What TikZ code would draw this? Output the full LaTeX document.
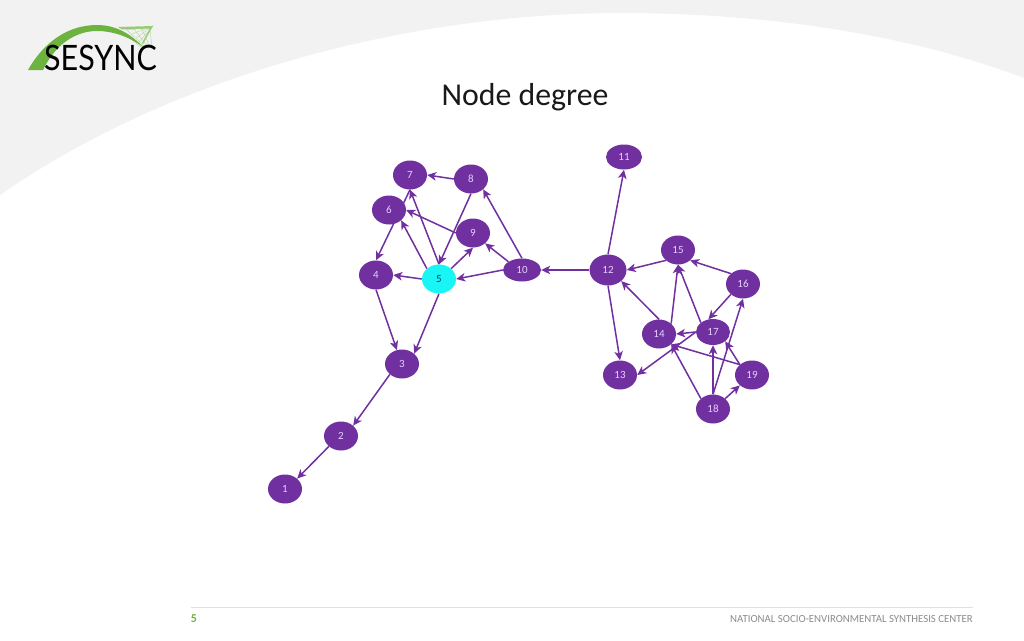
\documentclass[tikz,border=0pt]{standalone}
\usepackage{fontspec}
\setmainfont{Carlito}
\newfontfamily\logofont{Lato}
\usetikzlibrary{arrows.meta,shapes.geometric}
\pgfdeclarelayer{edgelayer}
\pgfdeclarelayer{nodelayer}
\pgfsetlayers{main,edgelayer,nodelayer}
\definecolor{vio}{HTML}{7030A0}
\definecolor{lab}{HTML}{E8CFFF}
\definecolor{bg}{HTML}{F2F2F2}
\definecolor{leaf}{HTML}{6DB33F}
\definecolor{hub}{HTML}{19F5F5}
\definecolor{hubtext}{HTML}{063F5C}
\tikzset{
  vx/.style={ellipse,fill=vio,text=lab,minimum width=34pt,minimum height=29pt,inner sep=0pt,font=\fontsize{11}{12}\selectfont},
  vxwide/.style={vx,minimum width=38pt,minimum height=23pt},
  vxhub/.style={vx,fill=hub,text=hubtext},
  lk/.style={draw=vio,line width=1.5pt,-{Stealth[length=9pt,width=8.5pt,inset=2.5pt]}},
  web/.style={draw=leaf!60,line width=0.3pt}
}
\begin{document}
\begin{tikzpicture}[x=1pt,y=-1pt]
\useasboundingbox (0,0) rectangle (1024,640);
\fill[white] (0,0) rectangle (1024,640);
\fill[bg] (0,0) -- (0,195) .. controls (180,70) and (420,13) .. (620,13) .. controls (770,13) and (910,35) .. (1024,78) -- (1024,0) -- cycle;
% logo
\foreach \a/\b in {118/141,126/145,134/148,142/150,150/152}{\draw[web] (\a,29) -- (\b,47);}
\foreach \b/\c in {30/128,34/132,38/136,42/139}{\draw[web] (153,26) -- (\c,\b);}
\fill[leaf] (28,70) .. controls (45,40) and (70,25) .. (97,25) .. controls (115,25) and (130,33) .. (143,47) .. controls (128,36) and (112,31) .. (97,31) .. controls (75,31) and (55,45) .. (43,70) -- cycle;
\fill[leaf!70] (118,27) -- (153,26) -- (143,44) -- (142,43) -- (150,28.5) -- (122,29.5) -- cycle;
\node[anchor=base west,inner sep=0pt,font=\logofont\fontsize{35}{35}\selectfont,text=black] (logo) at (44,70) {\scalebox{0.87}[1]{SESYNC}};
% title
\node[anchor=base,inner sep=0pt,font=\fontsize{31.8}{32}\selectfont,text=black!90] (title) at (525,105) {Node degree};
% footer
\draw[black!12,line width=1pt] (191,607) -- (973,607);
\node[anchor=base,inner sep=0pt,font=\bfseries\fontsize{12}{12}\selectfont,text=leaf] (pg) at (194,622) {5};
\node[anchor=base east,inner sep=0pt,font=\fontsize{10.8}{11}\selectfont,text=black!45] (org) at (973,622) {NATIONAL SOCIO-ENVIRONMENTAL SYNTHESIS CENTER};
% nodes
\begin{pgfonlayer}{nodelayer}
\node[vx] (n1) at (285,489) {1};
\node[vx] (n2) at (341,436) {2};
\node[vx] (n3) at (402,364) {3};
\node[vx] (n4) at (376,275) {4};
\node[vxhub] (n5) at (439,279) {5};
\node[vx] (n6) at (389,210) {6};
\node[vx] (n7) at (410,175) {7};
\node[vx] (n8) at (471,179) {8};
\node[vx] (n9) at (473,233) {9};
\node[vxwide] (n10) at (522,270) {10};
\node[vx,minimum width=36pt,minimum height=25pt] (n11) at (624,157) {11};
\node[vx,minimum width=37pt,minimum height=31pt] (n12) at (608,270) {12};
\node[vx] (n13) at (620,375) {13};
\node[vx] (n14) at (659,334) {14};
\node[vx] (n15) at (678,250) {15};
\node[vx] (n16) at (743,284) {16};
\node[vx,minimum height=26pt] (n17) at (713,332) {17};
\node[vx] (n18) at (713,409) {18};
\node[vx] (n19) at (752,375) {19};
\end{pgfonlayer}
% edges
\begin{pgfonlayer}{edgelayer}
\foreach \s/\t in {
  n8.west/n7.east, n5.north/n7.south, n7.south/n4.north, n9.west/n6.east,
  n5.north west/n6.south east, n5.north east/n9.south, n8.south/n5.north,
  n10.west/n5.east, n10.north west/n9.south east, n10.north/n8.south east,
  n5.west/n4.east, n4.south/n3.110, n5.south/n3.north east,
  n3.south west/n2.north east, n2.south west/n1.north east,
  n12.west/n10.east, n12.north/n11.south, n12.south/n13.north,
  n15.south west/n12.east, n14.north/n12.south east, n14.north east/n15.south,
  n17.north west/n15.south, n16.north west/n15.south east, n16.south west/n17.110,
  n17.west/n14.east, n17.west/n13.east, n18.north west/n14.south east,
  n19.north west/n14.south east, n18.north/n17.south, n19.north west/n17.south east,
  n18.north/n16.south, n18.north east/n19.south west}{
  \draw[lk] (\s) -- (\t);
}
\end{pgfonlayer}
\end{tikzpicture}
\end{document}
